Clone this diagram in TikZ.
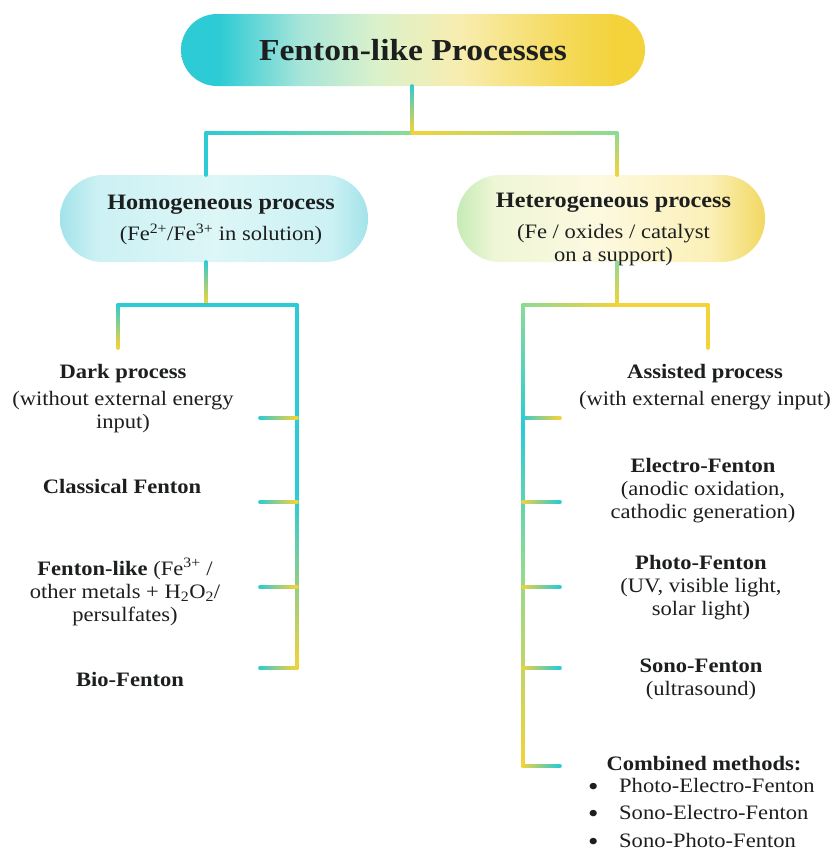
\documentclass[tikz,border=0pt]{standalone}
\usepackage{fontspec}
\setmainfont{Liberation Serif}[FakeStretch=1.1]
\usetikzlibrary{calc}
\definecolor{cy}{HTML}{2CCBD5}
\definecolor{ye}{HTML}{F3D23A}
\definecolor{gr}{HTML}{8ADB95}
\definecolor{ink}{HTML}{1C1F1E}
\definecolor{tA}{HTML}{A8E5D9}
\definecolor{tB}{HTML}{DAF1CB}
\definecolor{tC}{HTML}{F8EDB0}
\definecolor{tD}{HTML}{F5DA5C}
\definecolor{hA}{HTML}{A2E3EA}
\definecolor{hB}{HTML}{CCF1F4}
\definecolor{hC}{HTML}{DDF6F7}
\definecolor{eA}{HTML}{C6EBB6}
\definecolor{eB}{HTML}{EEF6D6}
\definecolor{eC}{HTML}{FDF9E0}
\definecolor{eD}{HTML}{FBF0B8}
\definecolor{eE}{HTML}{F2D862}
\pgfdeclarehorizontalshading{titleshade}{100bp}{color(0bp)=(cy); color(29bp)=(cy); color(38bp)=(tA); color(46bp)=(tB); color(55bp)=(tC); color(66bp)=(tD); color(72bp)=(ye); color(100bp)=(ye)}
\pgfdeclarehorizontalshading{homshade}{100bp}{color(0bp)=(hA); color(25bp)=(hA); color(31bp)=(hB); color(50bp)=(hC); color(69bp)=(hB); color(75bp)=(hA); color(100bp)=(hA)}
\pgfdeclarehorizontalshading{hetshade}{100bp}{color(0bp)=(eA); color(25bp)=(eA); color(31bp)=(eB); color(48bp)=(eC); color(66bp)=(eD); color(75bp)=(eE); color(100bp)=(eE)}
\tikzset{
  conn/.style={line width=3.6pt, line cap=round},
  lbl/.style={align=center, font=\fontsize{20.5}{23}\selectfont, text=ink, inner sep=0pt},
  pill/.style={rectangle, rounded corners=43pt, minimum width=308pt, minimum height=87pt, inner sep=0pt},
}
\newcommand{\gline}[4]{%
  \foreach \i in {0,...,19}{%
    \pgfmathsetmacro\ta{\i/20}%
    \pgfmathsetmacro\tb{(\i+1)/20}%
    \pgfmathtruncatemacro\pc{98-\i*5}%
    \draw[conn, draw=#3!\pc!#4] ($(#1)!\ta!(#2)$) -- ($(#1)!\tb!(#2)$);
  }}
\newcommand{\bul}{\makebox[33pt][l]{\hspace{2pt}\raisebox{-3pt}{\fontsize{27}{27}\selectfont •}}}
\begin{document}
\begin{tikzpicture}[x=1pt,y=-1pt]
\useasboundingbox (0,0) rectangle (836,855);
\fill[white] (0,0) rectangle (836,855);

% title
\node[rectangle, rounded corners=36pt, minimum width=464pt, minimum height=72pt, shading=titleshade, inner sep=0pt,
      font=\fontsize{30.5}{34}\selectfont\bfseries, text=ink] (title) at (413,50) {Fenton-like Processes};

% boxes
\node[pill, shading=homshade] (hom) at (214,218.5) {};
\node[pill, shading=hetshade] (het) at (611,218.5) {};
\node[lbl] (homtxt) at (221,220) {{\fontsize{22}{23}\selectfont\bfseries Homogeneous process}\\[8pt](Fe\textsuperscript{2+}/Fe\textsuperscript{3+} in solution)};
\node[lbl] (hettxt) at (613.5,229) {{\fontsize{22}{23}\selectfont\bfseries Heterogeneous process}\\[8pt](Fe / oxides / catalyst\\on a support)};

% coordinates of the tree
\coordinate (tj) at (412,133);
\coordinate (tl) at (206,133);
\coordinate (tr) at (617,133);
\coordinate (homin) at (206,175);
\coordinate (hetin) at (617,175);
\coordinate (homout) at (206,262);
\coordinate (hetout) at (617,262);
\coordinate (ltitle) at (412,86);

\gline{ltitle}{tj}{cy}{ye}
\gline{tl}{tj}{cy}{gr}
\gline{tj}{tr}{ye}{gr}
\gline{tl}{homin}{cy}{cy}
\gline{tr}{hetin}{gr}{ye}

% left tree
\coordinate (lj) at (206,305);
\coordinate (ll) at (118,305);
\coordinate (lr) at (297,305);
\coordinate (lld) at (118,348);
\coordinate (lmid) at (297,500);
\coordinate (lbot) at (297,668);
\coordinate (lend) at (260,668);
\gline{homout}{lj}{cy}{ye}
\gline{ll}{lr}{cy}{cy}
\gline{ll}{lld}{cy}{ye}
\gline{lr}{lmid}{cy}{cy}
\gline{lmid}{lbot}{cy}{ye}
\gline{lend}{lbot}{cy}{ye}
\foreach \y [count=\k] in {418,502,587}{
  \coordinate (lta\k) at (260,\y);
  \coordinate (ltb\k) at (297,\y);
  \gline{lta\k}{ltb\k}{cy}{ye}
}

% right tree
\coordinate (rj) at (617,305);
\coordinate (rl) at (523,305);
\coordinate (rr) at (708,305);
\coordinate (rrd) at (708,348);
\coordinate (rm1) at (523,430);
\coordinate (rm2) at (523,560);
\coordinate (rbot) at (523,766);
\coordinate (rend) at (560,766);
\gline{hetout}{rj}{gr}{ye}
\gline{rl}{rj}{gr}{ye}
\gline{rj}{rr}{ye}{ye}
\gline{rr}{rrd}{ye}{ye}
\gline{rl}{rm1}{gr}{cy}
\gline{rm1}{rm2}{cy}{gr}
\gline{rm2}{rbot}{gr}{ye}
\gline{rbot}{rend}{ye}{cy}
\coordinate (rta1) at (523,418);
\coordinate (rtb1) at (560,418);
\gline{rta1}{rtb1}{cy}{ye}
\foreach \y [count=\k from 2] in {502,587,668}{
  \coordinate (rta\k) at (523,\y);
  \coordinate (rtb\k) at (560,\y);
  \gline{rta\k}{rtb\k}{ye}{cy}
}

% left labels
\node[lbl] (dark) at (123,399) {\textbf{Dark process}\\[4pt](without external energy\\input)};
\node[lbl] (classic) at (122,486) {\textbf{Classical Fenton}};
\node[lbl] (flike) at (125,592) {\textbf{Fenton-like} (Fe\textsuperscript{3+} /\\other metals + H\textsubscript{2}O\textsubscript{2}/\\persulfates)};
\node[lbl] (bio) at (130,679) {\textbf{Bio-Fenton}};

% right labels
\node[lbl] (assist) at (705,387) {\textbf{Assisted process}\\[4pt](with external energy input)};
\node[lbl] (electro) at (703,491) {\textbf{Electro-Fenton}\\(anodic oxidation,\\cathodic generation)};
\node[lbl] (photo) at (701,588) {\textbf{Photo-Fenton}\\(UV, visible light,\\solar light)};
\node[lbl] (sono) at (701,679) {\textbf{Sono-Fenton}\\(ultrasound)};
\node[lbl] (comb) at (704,764) {\textbf{Combined methods:}};
\node[lbl, align=left, anchor=north west, font=\fontsize{20.5}{27.5}\selectfont] (list) at (586,778)
  {\bul Photo-Electro-Fenton\\\bul Sono-Electro-Fenton\\\bul Sono-Photo-Fenton};
\end{tikzpicture}
\end{document}
